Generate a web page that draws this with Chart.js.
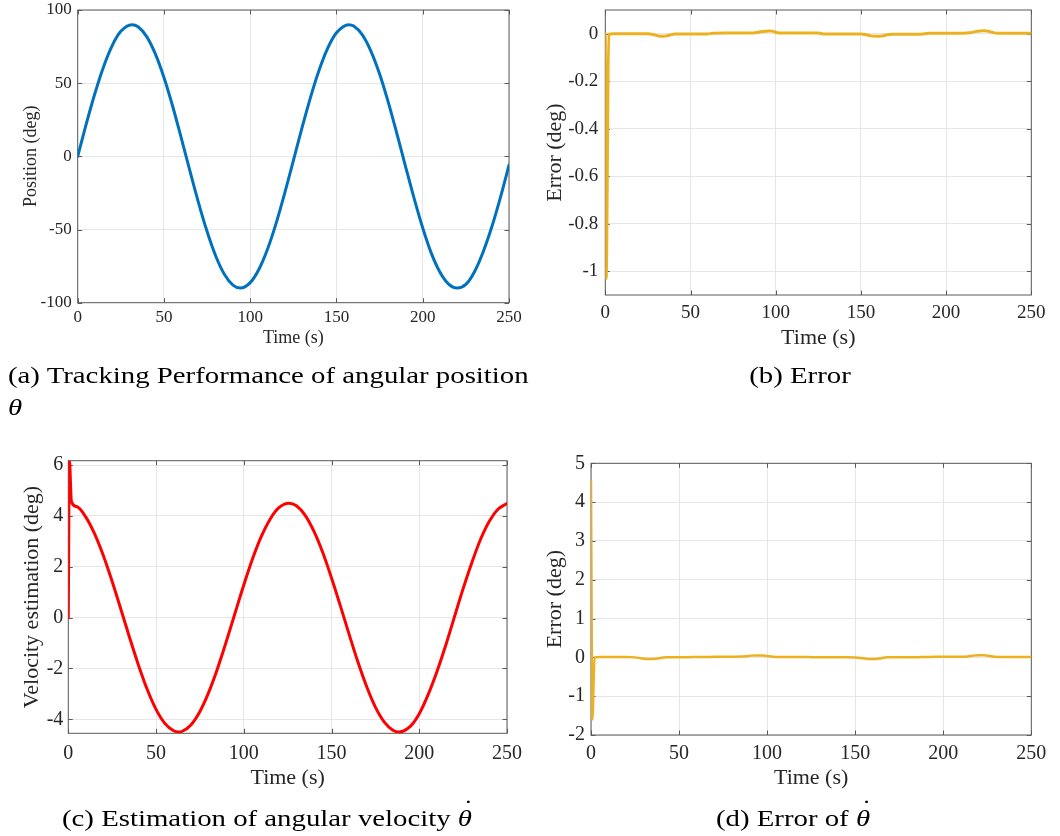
<!DOCTYPE html>
<html>
<head>
<meta charset="utf-8">
<script src="https://cdn.jsdelivr.net/npm/chart.js@4.4.1/dist/chart.umd.min.js"></script>
<style>
  html, body { margin: 0; padding: 0; background: #ffffff; }
  #page { position: relative; width: 1060px; height: 836px; overflow: hidden; background: #ffffff; }
  canvas { position: absolute; }
  .cap { position: absolute; font-family: "Liberation Serif", "Times New Roman", serif; font-size: 24px;
         line-height: 32px; color: #000; white-space: nowrap; }
  .th { position: relative; display: inline-block; font-style: italic; }
  .th .dt { position: absolute; left: 0.2em; top: -0.42em; font-style: normal; }
</style>
</head>
<body>
<div id="page">
  <canvas id="panelA" width="540" height="360" style="left:0px;top:0px"></canvas>
  <canvas id="panelB" width="530" height="360" style="left:530px;top:0px"></canvas>
  <canvas id="panelC" width="540" height="396" style="left:0px;top:440px"></canvas>
  <canvas id="panelD" width="530" height="396" style="left:530px;top:440px"></canvas>

  <div class="cap" style="left:8px;top:359px;transform-origin:0 0;transform:scaleX(1.2)">(a) Tracking Performance of angular position<br><i>θ</i></div>
  <div class="cap" style="left:800px;top:359px;transform:translateX(-50%) scaleX(1.2)">(b) Error</div>
  <div class="cap" style="left:267px;top:802px;transform:translateX(-50%) scaleX(1.2)">(c) Estimation of angular velocity <span class="th">θ<span class="dt">˙</span></span></div>
  <div class="cap" style="left:793px;top:802px;transform:translateX(-50%) scaleX(1.2)">(d) Error of <span class="th">θ<span class="dt">˙</span></span></div>
</div>

<script>
// ---- simulation samples (time in s) ----
const positionTime = [0, 5, 10, 15, 20, 25, 31.4, 35, 40, 45, 50, 55, 60, 65, 70, 75, 80, 85, 90, 94.2,
  100, 105, 110, 115, 120, 125, 130, 135, 140, 145, 150, 157.1, 160, 165, 170, 175, 180, 185, 190, 195,
  200, 205, 210, 215, 219.9, 225, 230, 235, 240, 245, 250];
const positionDeg = [0, 22.3, 43.1, 61.3, 75.7, 85.4, 90, 88.6, 81.8, 70.0, 53.9, 34.4, 12.7, -9.8, -31.6, -51.4, -68.1, -80.6, -88.0, -90,
  -86.3, -77.3, -63.5, -45.8, -25.1, -3.0, 19.4, 40.5, 59.1, 74.1, 84.4, 90, 89.0, 83.0, 71.8, 56.3, 37.1, 15.6, -6.8, -28.7,
  -49.0, -66.3, -79.2, -87.3, -90, -87.5, -78.8, -65.3, -48.3, -28.2, -6.0];

const positionErrTime = [0, 0.5, 2, 5, 10, 15, 20, 25, 28, 31, 33, 35, 38, 41, 45, 50, 55, 60, 63, 70, 75, 80, 85,
  88, 91, 94, 96, 98, 101, 104, 110, 115, 120, 125, 128, 135, 140, 145, 150, 153, 156, 159, 162, 165, 168,
  175, 180, 185, 190, 195, 200, 205, 210, 214, 217, 220, 222, 224, 227, 230, 235, 240, 245, 250];
const positionErrDeg = [0, -1.03, -0.003, 0, 0, 0, 0, 0, -0.003, -0.009, -0.011, -0.010, -0.005, -0.001, -0.001, -0.001, -0.001, -0.001, 0.002, 0.003, 0.003, 0.003, 0.003,
  0.004, 0.008, 0.011, 0.012, 0.011, 0.004, 0.003, 0.003, 0.003, 0.003, 0.003, -0.001, -0.001, -0.001, -0.001, -0.001, -0.004, -0.009, -0.011, -0.010, -0.005, -0.002,
  -0.002, -0.002, -0.002, 0.002, 0.002, 0.002, 0.002, 0.002, 0.004, 0.009, 0.012, 0.013, 0.012, 0.006, 0.002, 0.002, 0.002, 0.002, 0.002];

const velocityTime = [0, 0.6, 1.8, 5, 10, 15, 20, 25, 30, 35, 40, 45, 50, 55, 60, 62.8, 65, 70, 75, 80, 85, 90, 95,
  100, 105, 110, 115, 120, 125.7, 130, 135, 140, 145, 150, 155, 160, 165, 170, 175, 180, 185, 188.5,
  195, 200, 205, 210, 215, 220, 225, 230, 235, 240, 245, 250];
const velocityDeg = [0, 6.2, 4.55, 4.36, 3.95, 3.29, 2.43, 1.42, 0.32, -0.80, -1.87, -2.83, -3.61, -4.16, -4.45, -4.5, -4.47, -4.21, -3.69, -2.94, -2.01, -0.95, 0.17,
  1.28, 2.31, 3.19, 3.87, 4.32, 4.5, 4.40, 4.02, 3.39, 2.56, 1.56, 0.47, -0.65, -1.74, -2.71, -3.52, -4.10, -4.43, -4.5,
  -4.27, -3.78, -3.04, -2.14, -1.11, 0.02, 1.14, 2.17, 3.09, 3.80, 4.27, 4.49];

const velocityErrTime = [0, 0.8, 2, 5, 10, 15, 20, 25, 28, 31, 34, 37, 40, 43, 50, 55, 60, 65, 70, 75, 80, 85,
  88, 91, 94, 97, 100, 103, 110, 115, 120, 125, 130, 135, 140, 145, 150, 153, 156, 159, 162, 165, 168,
  175, 180, 185, 190, 195, 200, 205, 210, 214, 217, 220, 223, 226, 229, 235, 240, 245, 250];
const velocityErrDeg = [4.55, -1.6, 0.0, 0.01, 0.01, 0.01, 0.01, 0.0, -0.02, -0.04, -0.045, -0.035, -0.01, 0.0, 0.005, 0.005, 0.01, 0.01, 0.015, 0.015, 0.015, 0.02,
  0.03, 0.045, 0.05, 0.05, 0.035, 0.015, 0.01, 0.01, 0.01, 0.005, 0.0, 0.0, 0.0, 0.0, -0.005, -0.015, -0.035, -0.045, -0.04, -0.02, 0.0,
  0.005, 0.005, 0.005, 0.01, 0.015, 0.015, 0.015, 0.015, 0.025, 0.045, 0.055, 0.055, 0.04, 0.015, 0.01, 0.01, 0.01, 0.01];

// ---- axis ticks ----
const timeTicks = [0, 50, 100, 150, 200, 250];
const positionTicks = [-100, -50, 0, 50, 100];
const positionErrTicks = [-1, -0.8, -0.6, -0.4, -0.2, 0];
const velocityTicks = [-4, -2, 0, 2, 4, 6];
const velocityErrTicks = [-2, -1, 0, 1, 2, 3, 4, 5];

// ---- styling ----
const SERIF = '"Liberation Serif", "Times New Roman", serif';
const INK = '#262626';
const GRID = '#e6e6e6';
const BOX = '#5a5a5a';

// closed axes box with inward tick marks on all four sides
const axesBox = {
  id: 'axesBox',
  beforeDatasetsDraw(chart) {
    const { ctx, chartArea: a, scales: { x, y } } = chart;
    const len = 4.5;
    ctx.save();
    ctx.strokeStyle = BOX;
    ctx.lineWidth = 1;
    ctx.beginPath();
    x.ticks.forEach(t => {
      const p = Math.round(x.getPixelForValue(t.value)) + 0.5;
      ctx.moveTo(p, a.bottom); ctx.lineTo(p, a.bottom - len);
      ctx.moveTo(p, a.top); ctx.lineTo(p, a.top + len);
    });
    y.ticks.forEach(t => {
      const p = Math.round(y.getPixelForValue(t.value)) + 0.5;
      ctx.moveTo(a.left, p); ctx.lineTo(a.left + len, p);
      ctx.moveTo(a.right, p); ctx.lineTo(a.right - len, p);
    });
    ctx.stroke();
    ctx.strokeRect(a.left, a.top, a.right - a.left, a.bottom - a.top);
    ctx.restore();
  }
};

function series(times, values) {
  return times.map((t, i) => ({ x: t, y: values[i] }));
}

function fixedTicks(list) {
  return scale => { scale.ticks = list.map(v => ({ value: v })); };
}

function makePanel(id, c) {
  new Chart(document.getElementById(id), {
    type: 'line',
    data: {
      datasets: [{
        data: series(c.time, c.values),
        borderColor: c.color,
        borderWidth: c.lineWidth,
        pointRadius: 0,
        fill: false,
        cubicInterpolationMode: 'monotone',
        borderJoinStyle: 'round',
        borderCapStyle: 'round'
      }]
    },
    options: {
      responsive: false,
      animation: false,
      devicePixelRatio: 1,
      layout: { padding: c.pad },
      plugins: { legend: { display: false }, tooltip: { enabled: false } },
      scales: {
        x: {
          type: 'linear', min: 0, max: 250,
          afterBuildTicks: fixedTicks(timeTicks),
          afterFit: s => { s.height = c.xHeight; s.paddingLeft = 0; s.paddingRight = 0; },
          grid: { color: GRID, drawTicks: false },
          border: { display: false },
          ticks: { font: { family: SERIF, size: c.tickSize }, color: INK, padding: c.xTickPad,
                   maxRotation: 0, autoSkip: false, callback: v => String(v) },
          title: { display: true, text: 'Time (s)', color: INK,
                   font: { family: SERIF, size: c.xTitleSize }, padding: { top: 0, bottom: c.xTitlePad } }
        },
        y: {
          type: 'linear', min: c.yMin, max: c.yMax,
          afterBuildTicks: fixedTicks(c.yTicks),
          afterFit: s => { s.width = c.yWidth; s.paddingTop = 0; s.paddingBottom = 0; },
          grid: { color: GRID, drawTicks: false },
          border: { display: false },
          ticks: { font: { family: SERIF, size: c.tickSize }, color: INK, padding: c.yTickPad,
                   autoSkip: false, callback: v => String(v) },
          title: { display: true, text: c.yLabel, color: INK,
                   font: { family: SERIF, size: c.yTitleSize }, padding: { top: c.yTitlePad, bottom: 0 } }
        }
      }
    },
    plugins: [axesBox]
  });
}

makePanel('panelA', {
  time: positionTime, values: positionDeg, color: '#0072BD', lineWidth: 3,
  yMin: -100, yMax: 100, yTicks: positionTicks, yLabel: 'Position (deg)',
  pad: { left: 0, top: 10, right: 31, bottom: 0 },
  xHeight: 57.3, yWidth: 77.7, tickSize: 17, xTitleSize: 18, yTitleSize: 18,
  xTickPad: 5.1, yTickPad: 6, xTitlePad: 11.2, yTitlePad: 20.2
});

makePanel('panelB', {
  time: positionErrTime, values: positionErrDeg, color: '#EDB120', lineWidth: 3,
  yMin: -1.1, yMax: 0.1, yTicks: positionErrTicks, yLabel: 'Error (deg)',
  pad: { left: 0, top: 10, right: 28.7, bottom: 0 },
  xHeight: 65, yWidth: 75.3, tickSize: 19, xTitleSize: 22, yTitleSize: 22,
  xTickPad: 6.9, yTickPad: 7, xTitlePad: 8.8, yTitlePad: 11.8
});

makePanel('panelC', {
  time: velocityTime, values: velocityDeg, color: '#FF0000', lineWidth: 3,
  yMin: -4.55, yMax: 6.17, yTicks: velocityTicks, yLabel: 'Velocity estimation (deg)',
  pad: { left: 0, top: 20.7, right: 33, bottom: 0 },
  xHeight: 102.7, yWidth: 68.3, tickSize: 20, xTitleSize: 22, yTitleSize: 22,
  xTickPad: 8, yTickPad: 5, xTitlePad: 44.5, yTitlePad: 19.5
});

makePanel('panelD', {
  time: velocityErrTime, values: velocityErrDeg, color: '#EDB120', lineWidth: 2.5,
  yMin: -2, yMax: 5, yTicks: velocityErrTicks, yLabel: 'Error (deg)',
  pad: { left: 0, top: 23.3, right: 28.7, bottom: 0 },
  xHeight: 101, yWidth: 61, tickSize: 20, xTitleSize: 22, yTitleSize: 22,
  xTickPad: 6.3, yTickPad: 6, xTitlePad: 44.5, yTitlePad: 12.3
});
</script>
</body>
</html>
